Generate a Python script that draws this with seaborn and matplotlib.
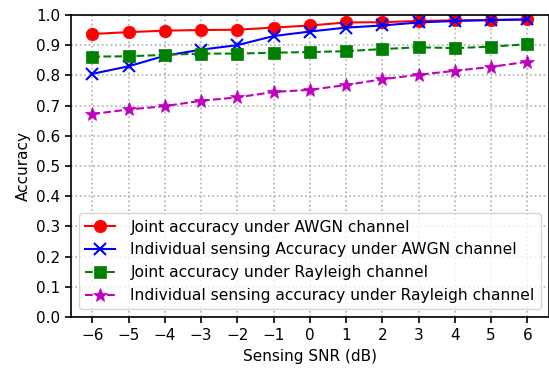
import numpy as np
import pandas as pd
import matplotlib
matplotlib.use("Agg")
import matplotlib.pyplot as plt
import seaborn as sns

snr = [-6, -5, -4, -3, -2, -1, 0, 1, 2, 3, 4, 5, 6]
joint_awgn = [0.937, 0.943, 0.948, 0.950, 0.951, 0.958, 0.965, 0.975, 0.976, 0.980, 0.982, 0.983, 0.985]
indiv_awgn = [0.805, 0.830, 0.865, 0.885, 0.900, 0.930, 0.945, 0.958, 0.965, 0.975, 0.980, 0.983, 0.985]
joint_rayleigh = [0.862, 0.863, 0.868, 0.872, 0.872, 0.875, 0.877, 0.880, 0.887, 0.893, 0.890, 0.895, 0.903]
indiv_rayleigh = [0.672, 0.687, 0.698, 0.716, 0.727, 0.745, 0.752, 0.768, 0.787, 0.802, 0.815, 0.828, 0.845]

series = [
    ("Joint accuracy under AWGN channel", joint_awgn, "red", "o", "-", 9),
    ("Individual sensing Accuracy under AWGN channel", indiv_awgn, "blue", "x", "-", 9),
    ("Joint accuracy under Rayleigh channel", joint_rayleigh, "green", "s", "--", 8),
    ("Individual sensing accuracy under Rayleigh channel", indiv_rayleigh, "m", "*", "--", 10),
]

plt.rcParams["font.size"] = 11
plt.rcParams["axes.linewidth"] = 1.2
plt.rcParams["xtick.major.size"] = 4.5
plt.rcParams["ytick.major.size"] = 4.5
plt.rcParams["xtick.major.width"] = 1.2
plt.rcParams["ytick.major.width"] = 1.2

fig, ax = plt.subplots(figsize=(5.49, 3.73), dpi=100)
for label, vals, c, m, ls, ms in series:
    sns.lineplot(x=snr, y=vals, ax=ax, color=c, marker=m, linestyle=ls, label=label,
                 markersize=ms, markeredgewidth=1.5 if m == "x" else 0.5,
                 markeredgecolor=c, linewidth=1.5)

ax.set_xticks(snr)
ax.set_xlim(-6.58, 6.6)
ax.set_ylim(0, 1.0)
ax.set_yticks(np.arange(0, 1.01, 0.1))
ax.grid(True, linestyle=":", color="#b0b0b0", linewidth=1.2)
ax.set_xlabel("Sensing SNR (dB)")
ax.set_ylabel("Accuracy")
ax.legend(loc="lower left", fontsize=11.2, handlelength=1.9, handletextpad=1.0,
          borderaxespad=0.5, labelspacing=0.5)
fig.subplots_adjust(left=0.13, right=1.0, top=0.96, bottom=0.15)
fig.savefig("out.png", dpi=100)
